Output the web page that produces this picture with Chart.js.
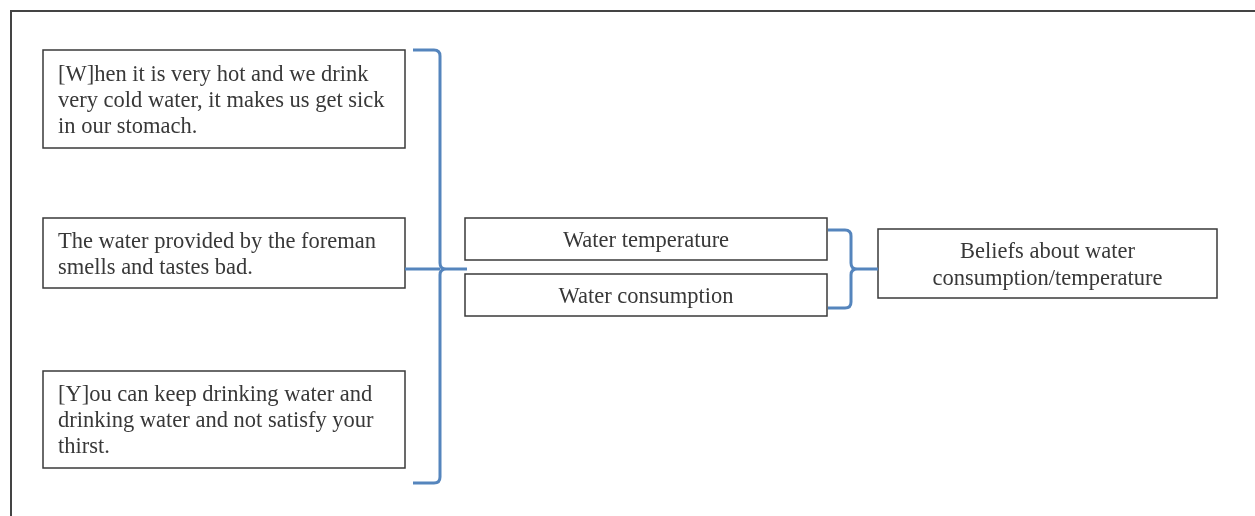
<!DOCTYPE html>
<html>
<head>
<meta charset="utf-8">
<script src="https://cdn.jsdelivr.net/npm/chart.js@4.4.0/dist/chart.umd.min.js"></script>
<style>
  html, body { margin: 0; padding: 0; background: #fff; }
  #wrap { width: 1255px; height: 516px; }
</style>
</head>
<body>
<div id="wrap"><canvas id="diagram" width="1255" height="516"></canvas></div>
<script>
// texts of the diagram
var quoteLines = [
    ['[W]hen it is very hot and we drink', 'very cold water, it makes us get sick', 'in our stomach.'],
    ['The water provided by the foreman', 'smells and tastes bad.'],
    ['[Y]ou can keep drinking water and', 'drinking water and not satisfy your', 'thirst.']
];
var factorLabels = ['Water temperature', 'Water consumption'];
var themeLines = ['Beliefs about water', 'consumption/temperature'];

// layout, in diagram units (same as pixels here)
var quoteBoxes = [[43, 50, 362, 98], [43, 218, 362, 70], [43, 371, 362, 97]];
var factorBoxes = [[465, 218, 362, 42], [465, 274, 362, 42]];
var themeBox = [878, 229, 339, 69];

var bracketBlue = '#5585bd';
var boxLine = '#3a3a3a';
var textColor = '#383838';
var fontSpec = '22.5px "Liberation Serif", "Times New Roman", serif';
var textShift = 2;

var ctx = document.getElementById('diagram').getContext('2d');

var diagramPlugin = {
    id: 'diagram',
    afterDraw: function (chart) {
        var c = chart.ctx;
        var sx = chart.scales.x, sy = chart.scales.y;
        var X = function (v) { return sx.getPixelForValue(v); };
        var Y = function (v) { return sy.getPixelForValue(v); };

        c.save();

        // outer frame (top and left only)
        c.strokeStyle = '#444';
        c.lineWidth = 2;
        c.beginPath();
        c.moveTo(X(11), Y(516));
        c.lineTo(X(11), Y(11));
        c.lineTo(X(1255), Y(11));
        c.stroke();

        function box(b) {
            c.strokeStyle = boxLine;
            c.lineWidth = 1.5;
            c.fillStyle = '#fff';
            c.fillRect(X(b[0]), Y(b[1]), X(b[0] + b[2]) - X(b[0]), Y(b[1] + b[3]) - Y(b[1]));
            c.strokeRect(X(b[0]), Y(b[1]), X(b[0] + b[2]) - X(b[0]), Y(b[1] + b[3]) - Y(b[1]));
        }

        c.font = fontSpec;
        c.fillStyle = textColor;
        c.textBaseline = 'middle';

        // quote boxes, left aligned text
        quoteBoxes.forEach(function (b, i) {
            box(b);
            c.fillStyle = textColor;
            c.textAlign = 'left';
            var lines = quoteLines[i];
            var lh = 26;
            var top = b[1] + b[3] / 2 - (lines.length - 1) * lh / 2 + textShift;
            lines.forEach(function (t, j) {
                c.fillText(t, X(b[0] + 15), Y(top + j * lh));
            });
        });

        // factor boxes, centered text
        factorBoxes.forEach(function (b, i) {
            box(b);
            c.fillStyle = textColor;
            c.textAlign = 'center';
            c.fillText(factorLabels[i], X(b[0] + b[2] / 2), Y(b[1] + b[3] / 2 + textShift));
        });

        // theme box
        box(themeBox);
        c.fillStyle = textColor;
        c.textAlign = 'center';
        themeLines.forEach(function (t, j) {
            c.fillText(t, X(themeBox[0] + themeBox[2] / 2), Y(themeBox[1] + themeBox[3] / 2 - 13 + j * 27 + textShift));
        });

        // brackets
        function bracket(x0, top, bottom, xs, mid, tip, r) {
            c.strokeStyle = bracketBlue;
            c.lineWidth = 3;
            c.lineJoin = 'round';
            c.beginPath();
            c.moveTo(X(x0), Y(top));
            c.lineTo(X(xs - r), Y(top));
            c.quadraticCurveTo(X(xs), Y(top), X(xs), Y(top + r));
            c.lineTo(X(xs), Y(mid - r));
            c.quadraticCurveTo(X(xs), Y(mid), X(xs + r), Y(mid));
            c.lineTo(X(tip), Y(mid));
            c.moveTo(X(xs + r), Y(mid));
            c.quadraticCurveTo(X(xs), Y(mid), X(xs), Y(mid + r));
            c.lineTo(X(xs), Y(bottom - r));
            c.quadraticCurveTo(X(xs), Y(bottom), X(xs - r), Y(bottom));
            c.lineTo(X(x0), Y(bottom));
            c.stroke();
        }
        bracket(413, 50, 483, 440, 269, 467, 6);
        bracket(828, 230, 308, 851, 269, 878, 6);

        // connector from middle quote
        c.beginPath();
        c.moveTo(X(405), Y(269));
        c.lineTo(X(440), Y(269));
        c.stroke();

        c.restore();
    }
};

var chart = new Chart(ctx, {
    type: 'scatter',
    data: { datasets: [{ data: [] }] },
    options: {
        responsive: false,
        animation: false,
        layout: { padding: 0 },
        plugins: { legend: { display: false }, tooltip: { enabled: false } },
        scales: {
            x: { type: 'linear', min: 0, max: 1255, display: false },
            y: { type: 'linear', min: 0, max: 516, reverse: true, display: false }
        }
    },
    plugins: [diagramPlugin]
});
</script>
</body>
</html>
